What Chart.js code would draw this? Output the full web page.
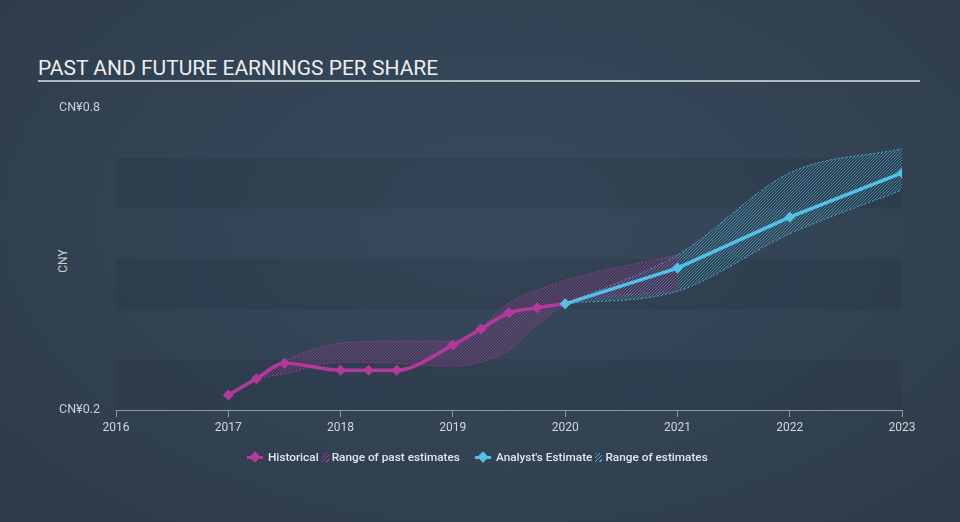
<!DOCTYPE html>
<html>
<head>
<meta charset="utf-8">
<script src="https://cdn.jsdelivr.net/npm/chart.js@4.4.0/dist/chart.umd.min.js"></script>
<style>
  body {
    margin: 0;
    width: 960px;
    height: 522px;
    overflow: hidden;
    position: relative;
    font-family: Roboto, "Noto Sans", sans-serif;
    background: radial-gradient(ellipse 75% 85% at 52% 42%, #37495c 0%, #324253 55%, #2d3946 100%);
  }
  #title {
    position: absolute;
    left: 38px;
    top: 56px;
    width: 882px;
    height: 24px;
    line-height: 24px;
    font-size: 21px;
    color: #eceef0;
    border-bottom: 2px solid #b3b8be;
  }
  #ylab {
    position: absolute;
    left: 48px;
    top: 254px;
    width: 30px;
    text-align: center;
    font-size: 12px;
    color: #c9ced4;
    transform: rotate(-90deg);
  }
  #wrap { position: absolute; left: 0; top: 0; width: 960px; height: 522px; }
  #legend {
    position: absolute;
    left: 247px;
    top: 449px;
    height: 16px;
    display: flex;
    align-items: center;
    font-size: 11.8px;
    font-weight: 500;
    color: #e4e7ea;
    white-space: nowrap;
  }
  .mk { position: relative; width: 16px; height: 16px; margin-right: 5px; }
  .mk .ln { position: absolute; left: 0; top: 7px; width: 16px; height: 3px; }
  .mk .dm { position: absolute; left: 4px; top: 4px; width: 8px; height: 8px; transform: rotate(45deg); }
  .hatch { width: 7px; height: 9px; margin: 0 3px 0 3px; }
</style>
</head>
<body>
<div id="title">PAST AND FUTURE EARNINGS PER SHARE</div>
<div id="ylab">CNY</div>
<div id="wrap"><canvas id="chart" width="960" height="522"></canvas></div>
<div id="legend">
  <span class="mk"><span class="ln" style="background:#b4399c"></span><span class="dm" style="background:#b4399c"></span></span>
  <span>Historical</span>
  <span class="hatch" style="background:repeating-linear-gradient(135deg, rgba(180,57,156,0.9) 0 1px, transparent 1px 3px)"></span>
  <span>Range of past estimates</span>
  <span style="width:15px"></span>
  <span class="mk"><span class="ln" style="background:#52c1e6"></span><span class="dm" style="background:#52c1e6"></span></span>
  <span>Analyst's Estimate</span>
  <span class="hatch" style="background:repeating-linear-gradient(135deg, rgba(82,193,230,0.9) 0 1px, transparent 1px 3px)"></span>
  <span>Range of estimates</span>
</div>
<script>
// years (fractional) and EPS values in CNY
let histYears = [2017, 2017.25, 2017.5, 2018, 2018.25, 2018.5, 2019, 2019.25, 2019.5, 2019.75, 2020];
let histEps = [0.230, 0.262, 0.293, 0.279, 0.279, 0.279, 0.329, 0.361, 0.393, 0.403, 0.411];

let pastRangeYears = [2017.25, 2017.5, 2018, 2018.5, 2019, 2019.25, 2019.5, 2019.75, 2020, 2021];
let pastRangeHigh = [0.262, 0.297, 0.333, 0.337, 0.337, 0.365, 0.413, 0.438, 0.458, 0.508];
let pastRangeLow = [0.262, 0.272, 0.295, 0.293, 0.287, 0.295, 0.319, 0.369, 0.407, 0.436];

let estYears = [2020, 2021, 2022, 2023];
let estEps = [0.411, 0.482, 0.583, 0.671];
let estHigh = [0.411, 0.508, 0.671, 0.719];
let estLow = [0.411, 0.436, 0.550, 0.637];

let xTicks = [2016, 2017, 2018, 2019, 2020, 2021, 2022, 2023];
let yTicks = [0.2, 0.8];

let magenta = '#b4399c';
let blue = '#52c1e6';

function pts(xs, ys) {
  return xs.map(function(x, i) { return { x: x, y: ys[i] }; });
}

function makeHatch(color) {
  let c = document.createElement('canvas');
  c.width = 3;
  c.height = 3;
  let g = c.getContext('2d');
  g.fillStyle = color;
  // one pixel per row on a diagonal, gives crisp "////" lines
  g.fillRect(2, 0, 1, 1);
  g.fillRect(1, 1, 1, 1);
  g.fillRect(0, 2, 1, 1);
  return g.createPattern(c, 'repeat');
}

let magHatch = makeHatch('rgba(180,57,156,0.6)');
let blueHatch = makeHatch('rgba(82,193,230,0.55)');

// darker horizontal bands behind the plot
let bandPlugin = {
  id: 'bands',
  beforeDatasetsDraw: function(chart) {
    let ctx = chart.ctx;
    let y = chart.scales.y;
    let area = chart.chartArea;
    ctx.save();
    ctx.fillStyle = 'rgba(28,37,48,0.14)';
    for (let v = 0.2; v < 0.75; v += 0.2) {
      let top = y.getPixelForValue(v + 0.1);
      let bot = y.getPixelForValue(v);
      ctx.fillRect(area.left, top, area.right - area.left, bot - top);
    }
    ctx.restore();
  }
};

let rangeLine = function(color, fillColor, data, fill) {
  return {
    data: data,
    borderColor: color,
    borderWidth: 1,
    borderDash: [2, 2],
    backgroundColor: fillColor,
    fill: fill,
    pointRadius: 0,
    cubicInterpolationMode: 'monotone',
    order: 5
  };
};

let ctx = document.getElementById('chart').getContext('2d');
let myChart = new Chart(ctx, {
  type: 'line',
  data: {
    datasets: [
      rangeLine('rgba(180,57,156,0.7)', magHatch, pts(pastRangeYears, pastRangeLow), false),
      rangeLine('rgba(180,57,156,0.7)', magHatch, pts(pastRangeYears, pastRangeHigh), '-1'),
      rangeLine('rgba(82,193,230,0.75)', blueHatch, pts(estYears, estLow), false),
      rangeLine('rgba(82,193,230,0.75)', blueHatch, pts(estYears, estHigh), '-1'),
      {
        label: 'Historical',
        data: pts(histYears, histEps),
        borderColor: magenta,
        backgroundColor: magenta,
        borderWidth: 3.5,
        pointStyle: 'rectRot',
        pointRadius: 5.5,
        pointBorderWidth: 0,
        cubicInterpolationMode: 'monotone',
        fill: false,
        order: 2
      },
      {
        label: "Analyst's Estimate",
        data: pts(estYears, estEps),
        borderColor: blue,
        backgroundColor: blue,
        borderWidth: 3.5,
        pointStyle: 'rectRot',
        pointRadius: 5.5,
        pointBorderWidth: 0,
        fill: false,
        order: 1
      }
    ]
  },
  options: {
    responsive: false,
    animation: false,
    layout: { padding: { left: 0, top: 108, right: 58, bottom: 0 } },
    plugins: {
      legend: { display: false },
      tooltip: { enabled: false }
    },
    scales: {
      x: {
        type: 'linear',
        min: xTicks[0],
        max: xTicks[xTicks.length - 1],
        afterFit: function(s) { s.height = 112; },
        afterBuildTicks: function(s) { s.ticks = xTicks.map(function(v) { return { value: v }; }); },
        ticks: {
          color: '#d3d7dc',
          font: { family: 'Roboto', size: 12 },
          padding: 4,
          maxRotation: 0,
          callback: function(v) { return String(v); }
        },
        grid: { drawOnChartArea: false, drawTicks: true, tickLength: 7, color: '#8e9aa7' },
        border: { display: true, color: '#8e9aa7', width: 1 }
      },
      y: {
        min: yTicks[0],
        max: yTicks[1],
        afterFit: function(s) { s.width = 116; },
        afterBuildTicks: function(s) { s.ticks = yTicks.map(function(v) { return { value: v }; }); },
        ticks: {
          color: '#c9ced4',
          font: { family: 'Roboto', size: 12.5 },
          padding: 8,
          callback: function(v) { return 'CN¥' + v; }
        },
        grid: { display: false },
        border: { display: false }
      }
    }
  },
  plugins: [bandPlugin]
});
</script>
</body>
</html>
